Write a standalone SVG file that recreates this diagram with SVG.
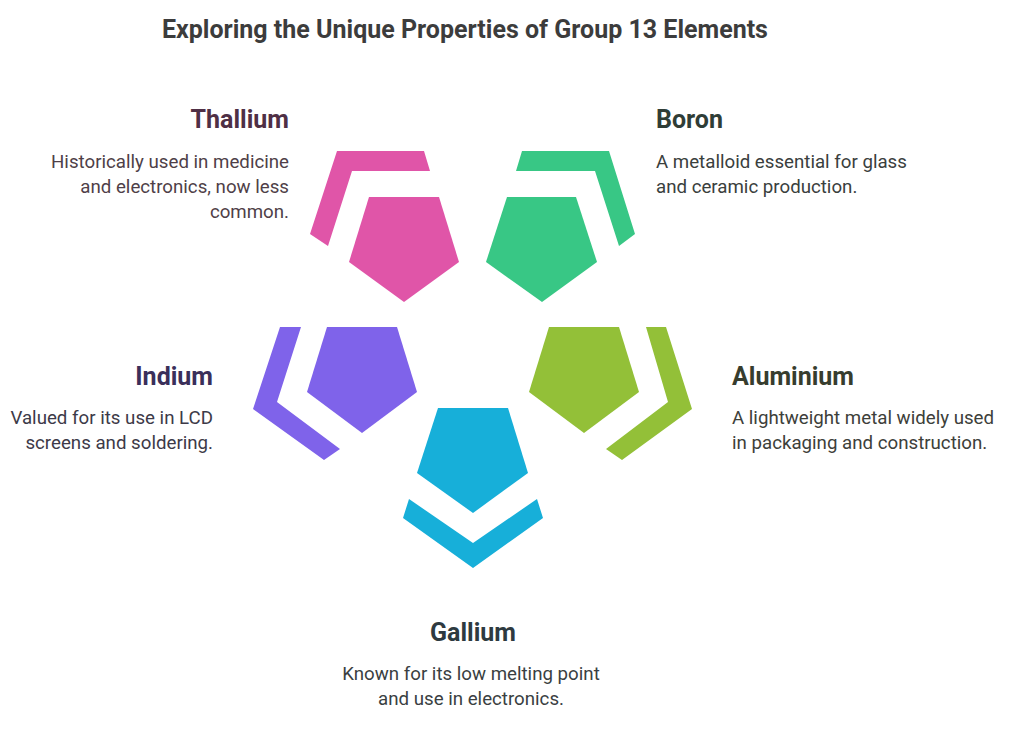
<svg xmlns="http://www.w3.org/2000/svg" width="1024" height="746" viewBox="0 0 1024 746">
<style>
text{font-family:Roboto,"Liberation Sans",sans-serif}
.t{font-size:25px;font-weight:bold}
.h{font-size:25px;font-weight:bold}
.b{font-size:18.7px}
</style>
<rect width="1024" height="746" fill="#fff"/>
<text class="t" x="465" y="38" text-anchor="middle" fill="#3c3c3c">Exploring the Unique Properties of Group 13 Elements</text>
<g id="thallium">
<polygon fill="#e055a8" points="369,197 439,197 459,262 404,302 349,262"/>
<polygon fill="#e055a8" points="337,151 424,151 430,171 352,171 328,246 310,234"/>
<text class="h" x="289" y="128" text-anchor="end" fill="#4f2f45">Thallium</text>
<text class="b" fill="#4f3f48" text-anchor="end"><tspan x="289" y="168">Historically used in medicine</tspan><tspan x="289" y="193">and electronics, now less</tspan><tspan x="289" y="218">common.</tspan></text>
</g>
<g id="boron">
<polygon fill="#38c785" points="507,197 576,197 597,262 542,302 486,262"/>
<polygon fill="#38c785" points="522,151 609,151 635,234 619,246 595,171 516,171"/>
<text class="h" x="656" y="128" fill="#2f3d36">Boron</text>
<text class="b" fill="#3a403d"><tspan x="656" y="168">A metalloid essential for glass</tspan><tspan x="656" y="193">and ceramic production.</tspan></text>
</g>
<g id="indium">
<polygon fill="#7f63ea" points="327,327 397,327 417,392 362,433 307,392"/>
<polygon fill="#7f63ea" points="280,327 301,327 277,402 340,449 324,460 253,409"/>
<text class="h" x="213" y="385" text-anchor="end" fill="#3a2f5a">Indium</text>
<text class="b" fill="#3d3a48" text-anchor="end"><tspan x="213" y="424">Valued for its use in LCD</tspan><tspan x="213" y="449">screens and soldering.</tspan></text>
</g>
<g id="aluminium">
<polygon fill="#93c038" points="549,327 619,327 639,392 584,433 529,392"/>
<polygon fill="#93c038" points="646,327 666,327 692,409 622,460 606,449 668,402"/>
<text class="h" x="732" y="385" fill="#373d2e">Aluminium</text>
<text class="b" fill="#3d403a"><tspan x="732" y="424">A lightweight metal widely used</tspan><tspan x="732" y="449">in packaging and construction.</tspan></text>
</g>
<g id="gallium">
<polygon fill="#17afd9" points="438,408 508,408 528,473 473,513 417,473"/>
<polygon fill="#17afd9" points="409,499 473,543 537,499 543,518 473,568 403,518"/>
<text class="h" x="473" y="641" text-anchor="middle" fill="#2e3a40">Gallium</text>
<text class="b" fill="#3a3f42" text-anchor="middle"><tspan x="471" y="680">Known for its low melting point</tspan><tspan x="471" y="705">and use in electronics.</tspan></text>
</g>
<g id="connectors"/>
</svg>
